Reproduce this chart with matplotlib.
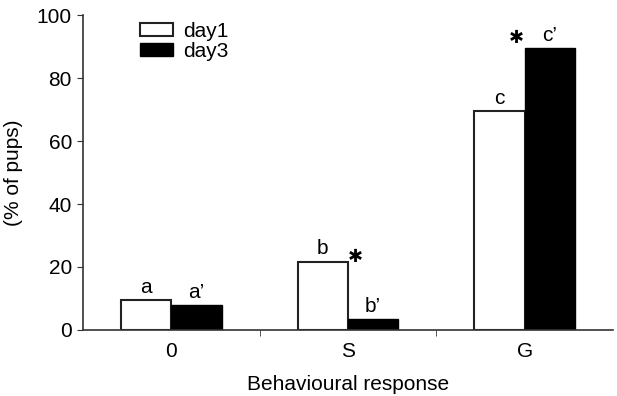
import matplotlib
matplotlib.use("Agg")
import matplotlib.pyplot as plt
import numpy as np

plt.rcParams['font.family'] = ['Liberation Sans', 'DejaVu Sans']

categories = ["0", "S", "G"]
day1 = [9.5, 21.7, 69.5]
day3 = [7.9, 3.5, 89.5]
labels_day1 = ["a", "b", "c"]
labels_day3 = ["a\u2019", "b\u2019", "c\u2019"]
yticks = [0, 20, 40, 60, 80, 100]

fig = plt.figure(figsize=(6.17, 3.96), dpi=100)
ax = fig.add_axes([0.1345, 0.1667, 0.859, 0.7953])

x = np.arange(len(categories))
w = 0.285
ax.bar(x - w/2, day1, w, color="white", edgecolor="#222222", linewidth=1.5, label="day1")
ax.bar(x + w/2, day3, w, color="black", edgecolor="black", linewidth=1.0, label="day3")

fs = 15
for i in range(len(categories)):
    ax.text(x[i] - w/2, day1[i] + 1.0, labels_day1[i], ha="center", va="bottom", fontsize=fs)
    ax.text(x[i] + w/2, day3[i] + 1.0, labels_day3[i], ha="center", va="bottom", fontsize=fs)

# significance asterisks
ax.text(x[1] + 0.04, day1[1] - 1.5, "\u2731", ha="center", va="bottom", fontsize=13,
        family="DejaVu Sans")
ax.text(x[2] - 0.045, day3[2] + 0.5, "\u2731", ha="center", va="bottom", fontsize=13,
        family="DejaVu Sans")

ax.set_xlim(-0.5, 2.5)
ax.set_ylim(0, 100)
ax.set_yticks(yticks)
ax.set_yticklabels([str(v) for v in yticks], fontsize=fs)
ax.set_xticks(x)
ax.set_xticklabels(categories, fontsize=fs)
ax.tick_params(axis="x", length=0, pad=9)
ax.set_xticks([0.5, 1.5], minor=True)
ax.tick_params(axis="x", which="minor", length=4, direction="out", color="#333333")
ax.tick_params(axis="y", length=4, direction="out", color="#333333", pad=4)

for s in ["top", "right"]:
    ax.spines[s].set_visible(False)
for s in ["left", "bottom"]:
    ax.spines[s].set_color("#333333")
    ax.spines[s].set_linewidth(1.2)

ax.set_xlabel("Behavioural response", fontsize=fs, labelpad=10)
ax.set_ylabel("(% of pups)", fontsize=fs, labelpad=10)

ax.legend(loc="upper left", bbox_to_anchor=(0.091, 1.005), frameon=False, fontsize=fs,
          handlelength=1.6, handleheight=0.6, handletextpad=0.5, labelspacing=0.05,
          borderaxespad=0)

fig.savefig("out.png", dpi=100)
